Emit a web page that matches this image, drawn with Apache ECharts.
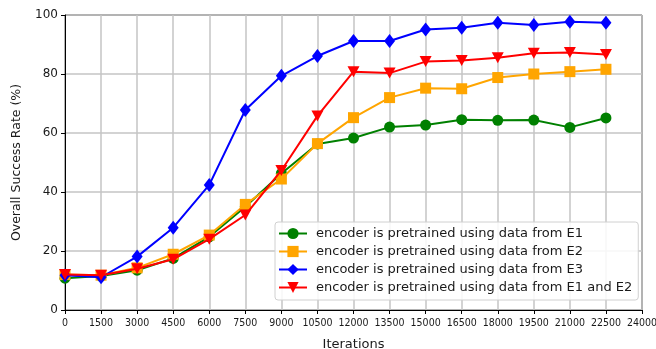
<!DOCTYPE html>
<html>
<head>
<meta charset="utf-8">
<script src="https://cdn.jsdelivr.net/npm/echarts@6/dist/echarts.min.js"></script>
<style>html,body{margin:0;padding:0;background:#fff;}#chart{width:656px;height:349px;}</style>
</head>
<body>
<div id="chart"></div>
<script>
const iterations = [0,1500,3000,4500,6000,7500,9000,10500,12000,13500,15000,16500,18000,19500,21000,22500];
const seriesNames = [
  'encoder is pretrained using data from E1',
  'encoder is pretrained using data from E2',
  'encoder is pretrained using data from E3',
  'encoder is pretrained using data from E1 and E2'
];
const e1 = [10.8,11.5,13.5,17.5,24.8,35.0,46.3,56.3,58.3,62.0,62.7,64.5,64.3,64.4,61.9,65.1];
const e2 = [12.0,11.8,14.3,18.9,25.4,35.8,44.4,56.4,65.2,72.0,75.2,75.0,78.8,80.0,80.8,81.6];
const e3 = [11.8,11.1,18.1,27.9,42.4,67.8,79.4,86.1,91.2,91.2,95.1,95.7,97.4,96.6,97.7,97.4];
const e12 = [12.0,11.8,14.0,17.2,24.0,32.2,47.3,65.8,80.8,80.3,84.2,84.6,85.5,87.0,87.3,86.6];
const xTicks = {min:0, max:24000, step:1500};
const yTicks = {min:0, max:100, step:20};

const colors = ['#008000','#FFA500','#0000FF','#FF0000'];
const symbols = ['circle','rect','diamond','path://M0,0 L10,0 L5,10 Z'];
const sizes = [[11,11],[11,11],[11,14],[12,11]];
const values = [e1,e2,e3,e12];

const chart = echarts.init(document.getElementById('chart'), null, {renderer:'canvas'});
chart.setOption({
  backgroundColor:'#fff',
  animation:false,
  grid:{left:65, top:15, right:14, bottom:39, show:true, borderColor:'#000', borderWidth:1, backgroundColor:'#fff',
    outerBoundsMode:'none', containLabel:false},
  legend:{
    orient:'vertical', left:275, top:222,
    itemWidth:28, itemHeight:14, itemGap:5,
    padding:[5,6,6,3],
    backgroundColor:'rgba(255,255,255,0.85)', borderColor:'#d0d0d0', borderWidth:1, borderRadius:3,
    textStyle:{fontFamily:'DejaVu Sans', fontSize:13, color:'#1a1a1a', padding:[0,0,0,4]},
    data:seriesNames
  },
  xAxis:{
    type:'value', min:xTicks.min, max:xTicks.max, interval:xTicks.step,
    name:'Iterations', nameLocation:'middle', nameGap:28,
    nameTextStyle:{fontFamily:'DejaVu Sans', fontSize:13, color:'#1a1a1a'},
    axisLine:{show:true, onZero:false, lineStyle:{color:'#000', width:1}},
    axisTick:{show:true, inside:false, length:4, lineStyle:{color:'#000'}},
    axisLabel:{fontFamily:'DejaVu Sans Condensed, Liberation Sans Narrow', fontSize:10.5, color:'#1a1a1a', margin:8,
      showMaxLabel:true, showMinLabel:true, formatter:(v)=>String(v)},
    splitLine:{show:true, lineStyle:{color:'#c4c4c4', width:1.5}}
  },
  yAxis:{
    type:'value', min:yTicks.min, max:yTicks.max, interval:yTicks.step,
    name:'Overall Success Rate (%)', nameLocation:'middle', nameGap:42,
    nameTextStyle:{fontFamily:'DejaVu Sans', fontSize:12.5, color:'#1a1a1a'},
    axisLine:{show:true, lineStyle:{color:'#000', width:1}},
    axisTick:{show:true, inside:false, length:4, lineStyle:{color:'#000'}},
    axisLabel:{fontFamily:'DejaVu Sans', fontSize:12, color:'#1a1a1a', margin:7},
    splitLine:{show:true, lineStyle:{color:'#c4c4c4', width:1.5}}
  },
  series: seriesNames.map((n,i)=>({
    name:n, type:'line',
    data: iterations.map((x,j)=>[x, values[i][j]]),
    symbol:symbols[i], symbolSize:sizes[i], showAllSymbol:true,
    lineStyle:{color:colors[i], width:2},
    itemStyle:{color:colors[i], borderWidth:0},
    emphasis:{disabled:true},
    z:2+i
  }))
});
</script>
</body>
</html>
